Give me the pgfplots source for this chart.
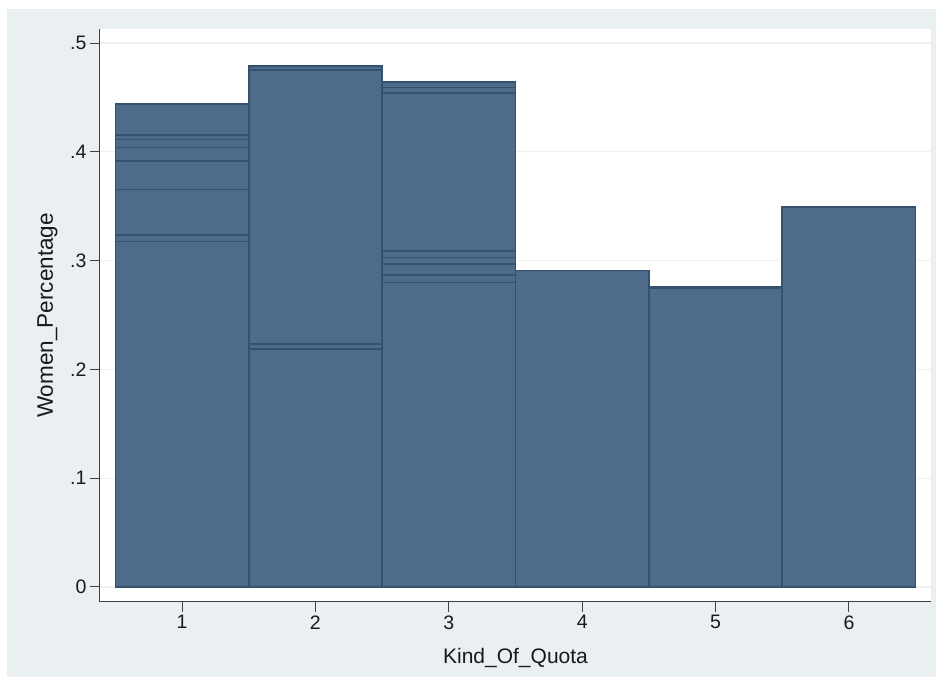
\documentclass[border=0pt]{standalone}
\usepackage{fontspec}
\setmainfont{Liberation Sans}
\usepackage{pgfplots}
\pgfplotsset{compat=1.18}
\definecolor{bgcol}{HTML}{EAEFF2}
\definecolor{barfill}{HTML}{4F6B8A}
\definecolor{bardraw}{HTML}{34516F}
\definecolor{gridcol}{HTML}{EDF1F3}
\tikzset{bstyle/.style={fill=barfill, draw=bardraw, line width=1.6pt}}
\begin{document}
\begin{tikzpicture}[x=1pt,y=1pt]
\fill[white] (-100,-82) rectangle (838,602);
\fill[bgcol] (-93,-75) rectangle (836,593);
\begin{axis}[
  at={(0pt,0pt)}, anchor=south west,
  scale only axis, width=831pt, height=573pt,
  xmin=0.385, xmax=6.615, ymin=-0.0138, ymax=0.5129,
  axis background/.style={fill=white},
  axis x line*=bottom, axis y line*=left,
  axis line style={draw=black!75, line width=1pt},
  tick align=outside, major tick length=10pt,
  tick style={draw=black!75, line width=1pt},
  xtick={1,2,3,4,5,6},
  xticklabels={1,2,3,4,5,6},
  ytick={0,0.1,0.2,0.3,0.4,0.5},
  yticklabels={0,.1,.2,.3,.4,.5},
  ymajorgrids, major grid style={draw=gridcol, line width=1.2pt},
  tick label style={font=\fontsize{19.5}{23}\selectfont, text=black!90},
  /pgf/number format/assume math mode=true,
  every axis x label/.style={at={(axis description cs:0.5,-0.1065)}, anchor=base, font=\fontsize{21}{25}\selectfont, text=black!90},
  every axis y label/.style={at={(axis description cs:-0.0566,0.5)}, rotate=90, anchor=base, font=\fontsize{22.5}{26}\selectfont, text=black!90},
  xlabel={Kind\_Of\_Quota},
  ylabel={Women\_Percentage},
  ybar, bar width=1, bar shift=0pt,
  clip=false,
]
% layer 1 (largest value per category)
\addplot[bstyle] coordinates {(1,0.444) (2,0.479) (3,0.464) (4,0.291) (5,0.2760) (6,0.349)};
% layer 2
\addplot[bstyle] coordinates {(1,0.4154) (2,0.4750) (3,0.4590) (5,0.2750)};
% layer 3
\addplot[bstyle] coordinates {(1,0.4115) (2,0.2233) (3,0.4543)};
% layer 4
\addplot[bstyle] coordinates {(1,0.4038) (2,0.2190) (3,0.3090)};
% layer 5
\addplot[bstyle] coordinates {(1,0.3915) (3,0.3030)};
% layer 6
\addplot[bstyle] coordinates {(1,0.3652) (3,0.2969)};
% layer 7
\addplot[bstyle] coordinates {(1,0.3235) (3,0.2868)};
% layer 8
\addplot[bstyle] coordinates {(1,0.3174) (3,0.2800)};
\end{axis}
\end{tikzpicture}
\end{document}
